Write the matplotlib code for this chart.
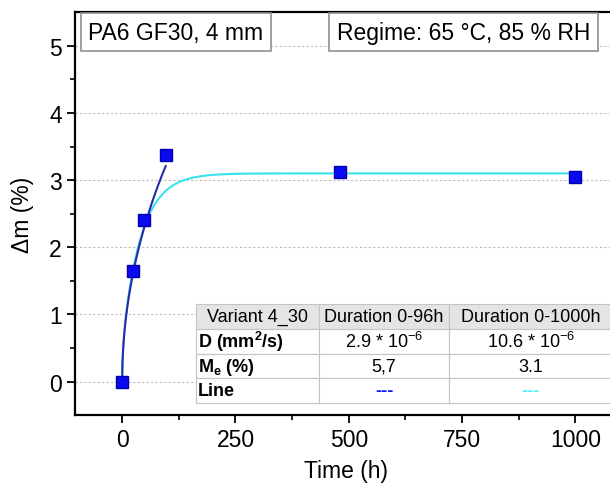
import numpy as np
import matplotlib
matplotlib.use("Agg")
import matplotlib.pyplot as plt

plt.rcParams['font.family'] = ['Liberation Sans', 'DejaVu Sans']
plt.rcParams['mathtext.fontset'] = 'custom'
plt.rcParams['mathtext.rm'] = 'Liberation Sans'
plt.rcParams['mathtext.bf'] = 'Liberation Sans:bold'

# measured mass gain
time_h = [0, 24, 48, 96, 480, 1000]
dm_pct = [0.0, 1.65, 2.40, 3.38, 3.12, 3.05]

# Fick fit parameters (two time windows)
thickness_mm = 4.0
D_short, Me_short, t_end_short = 2.9e-6, 5.7, 96
D_long, Me_long, t_end_long = 10.6e-6, 3.1, 1000

table_rows = [
    ["Variant 4_30", "Duration 0-96h", "Duration 0-1000h"],
    [r"D (mm$\mathbf{^2}$/s)", r"2.9 * 10$^{-6}$", r"10.6 * 10$^{-6}$"],
    [r"M$\mathbf{_e}$ (%)", "5,7", "3.1"],
    ["Line", "---", "---"],
]


def fick(t_h, D, Me, h):
    # plate absorbing from both faces
    t = np.asarray(t_h) * 3600.0
    n = np.arange(0, 300)[:, None]
    k = (2 * n + 1) ** 2
    s = np.sum(np.exp(-D * k * np.pi ** 2 * t / h ** 2) / k, axis=0)
    return Me * (1 - 8 / np.pi ** 2 * s)


fig = plt.figure(figsize=(6.10, 4.89), dpi=100)
ax = fig.add_axes([0.123, 0.149, 0.887, 0.824])

t1 = np.linspace(0, t_end_short, 300)
t2 = np.linspace(0, t_end_long, 1500)
ax.plot(t2, fick(t2, D_long, Me_long, thickness_mm), color='#38e4ec', lw=1.5, zorder=3)
ax.plot(t1, fick(t1, D_short, Me_short, thickness_mm), color='#2a2aa6', lw=1.5, zorder=4)
ax.plot(time_h, dm_pct, 's', color='#0a0aee', mec='#0000b0', ms=8, zorder=5)

ax.set_xlim(-104, 1090)
ax.set_ylim(-0.5, 5.5)
ax.set_xticks([0, 250, 500, 750, 1000])
ax.set_xticks([125, 375, 625, 875], minor=True)
ax.set_yticks([0, 1, 2, 3, 4, 5])
ax.set_yticks([0.5, 1.5, 2.5, 3.5, 4.5], minor=True)
ax.tick_params(which='major', length=6, width=1.3, labelsize=16.5, direction='out')
ax.tick_params(which='minor', length=3.5, width=1.2, direction='out')
for s in ax.spines.values():
    s.set_linewidth(1.6)
ax.yaxis.grid(True, ls=(0, (2, 2)), color='#bdbdbd', lw=0.8)
ax.set_axisbelow(True)

ax.set_xlabel("Time (h)", fontsize=16.5)
ax.set_ylabel("Δm (%)", fontsize=16.5)
ax.xaxis.set_label_coords(0.5, -0.108)
ax.yaxis.set_label_coords(-0.076, 0.5)

box = dict(boxstyle='square,pad=0.33', fc='white', ec='#909090', lw=1.2)
ax.text(0.0245, 0.979, "PA6 GF30, 4 mm", transform=ax.transAxes, fontsize=16.5,
        va='top', ha='left', bbox=box, zorder=6)
ax.text(0.484, 0.979, "Regime: 65 °C, 85 % RH", transform=ax.transAxes, fontsize=16.5,
        va='top', ha='left', bbox=box, zorder=6)

# parameter table
tab = ax.table(cellText=table_rows, bbox=[0.2237, 0.0298, 0.769, 0.2457],
               colWidths=[123, 130, 163], cellLoc='center', zorder=7)
tab.auto_set_font_size(False)
for (r, c), cell in tab.get_celld().items():
    cell.set_edgecolor('#c4c4c4')
    cell.set_linewidth(0.8)
    txt = cell.get_text()
    txt.set_fontsize(13)
    if r == 0:
        cell.set_facecolor('#e4e4e4')
    if c == 0 and r > 0:
        txt.set_fontweight('bold')
        cell.set_text_props(ha='left')
        cell.PAD = 0.015
    if r == 3 and c == 1:
        txt.set_color('#1010ff')
        txt.set_fontweight('bold')
    if r == 3 and c == 2:
        txt.set_color('#50f4f4')
        txt.set_fontweight('bold')

fig.savefig("out.png", dpi=100)
